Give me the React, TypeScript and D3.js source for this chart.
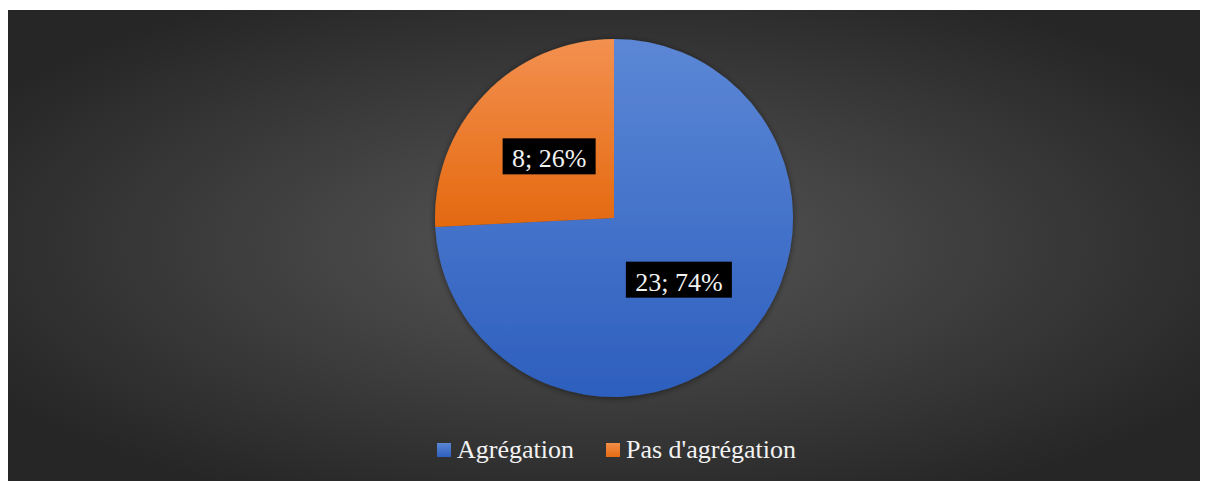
import React from "react";
import * as d3 from "d3";

const categories = ["Agrégation", "Pas d'agrégation"];
const values = [23, 8];
const labels = ["23; 74%", "8; 26%"];

const W = 1192;
const H = 471;

export default function App() {
  const cx = 606;
  const cy = 208;
  const r = 179;
  const pie = d3.pie<number>().sort(null).value((d) => d)(values);
  const arc = d3.arc<d3.PieArcDatum<number>>().innerRadius(0).outerRadius(r);
  const labelArc = d3.arc<d3.PieArcDatum<number>>().innerRadius(r * 0.5).outerRadius(r * 0.5);
  const fills = ["url(#gBlue)", "url(#gOrange)"];
  const legendFills = ["url(#lBlue)", "url(#lOrange)"];
  const labelW = [106, 93];
  const legendX = [429, 598];
  const font = "'Liberation Serif', 'Times New Roman', serif";
  return (
    <svg width={W} height={H} style={{ display: "block", margin: "2px 0 0 0" }}>
      <defs>
        <radialGradient id="bg" cx="50%" cy="50%" r="60%" gradientUnits="objectBoundingBox">
          <stop offset="0%" stopColor="#575757" />
          <stop offset="100%" stopColor="#262626" />
        </radialGradient>
        <linearGradient id="gBlue" x1="0" y1="0" x2="0" y2="1">
          <stop offset="0%" stopColor="#5c87d6" />
          <stop offset="100%" stopColor="#2d5fbe" />
        </linearGradient>
        <linearGradient id="gOrange" x1="0" y1="0" x2="0" y2="1">
          <stop offset="0%" stopColor="#f39050" />
          <stop offset="100%" stopColor="#e4690f" />
        </linearGradient>
        <linearGradient id="lBlue" x1="0" y1="0" x2="0" y2="1">
          <stop offset="0%" stopColor="#5b86d5" />
          <stop offset="100%" stopColor="#2f60be" />
        </linearGradient>
        <linearGradient id="lOrange" x1="0" y1="0" x2="0" y2="1">
          <stop offset="0%" stopColor="#f58e48" />
          <stop offset="100%" stopColor="#e56b12" />
        </linearGradient>
        <filter id="shadow" x="-20%" y="-20%" width="140%" height="140%">
          <feGaussianBlur in="SourceAlpha" stdDeviation="3" />
          <feOffset dx="0" dy="1" result="b" />
          <feComponentTransfer>
            <feFuncA type="linear" slope="0.5" />
          </feComponentTransfer>
          <feMerge>
            <feMergeNode />
            <feMergeNode in="SourceGraphic" />
          </feMerge>
        </filter>
      </defs>
      <rect x={0} y={0} width={W} height={H} fill="url(#bg)" />
      <g transform={`translate(${cx},${cy})`} filter="url(#shadow)">
        {pie.map((p, i) => (
          <path key={i} d={arc(p) || ""} fill={fills[i]} />
        ))}
      </g>
      <g transform={`translate(${cx},${cy})`}>
        {pie.map((p, i) => {
          const [lx, ly] = labelArc.centroid(p);
          return (
            <g key={i} transform={`translate(${lx},${ly})`}>
              <rect x={-labelW[i] / 2} y={-18} width={labelW[i]} height={36} fill="#000" />
              <text x={0} y={11} textAnchor="middle" fill="#f2f2f2" fontFamily={font} fontSize={26}>
                {labels[i]}
              </text>
            </g>
          );
        })}
      </g>
      <g>
        {categories.map((c, i) => (
          <g key={i} transform={`translate(${legendX[i]},${433})`}>
            <rect x={0} y={0} width={14} height={14} fill={legendFills[i]} />
            <text x={20} y={14.5} fill="#f2f2f2" fontFamily={font} fontSize={26}>
              {c}
            </text>
          </g>
        ))}
      </g>
    </svg>
  );
}
